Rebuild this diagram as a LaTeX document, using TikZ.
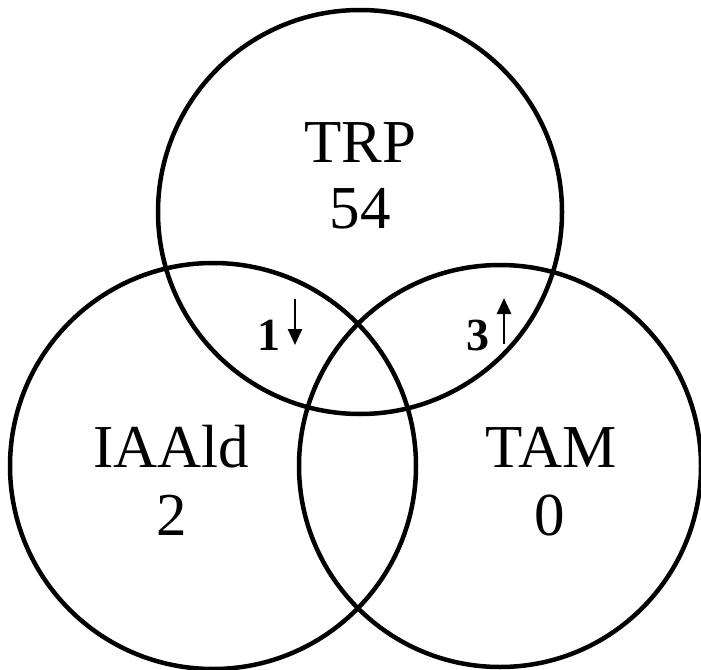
\documentclass[tikz,border=0pt]{standalone}
\usepackage{fontspec}
\setmainfont{Liberation Serif}
\usetikzlibrary{arrows.meta}
\begin{document}
\begin{tikzpicture}[x=1pt,y=-1pt,
  ring/.style={draw=black,line width=4.5pt},
  big/.style={font=\fontsize{61}{61}\selectfont,inner sep=0pt,anchor=base},
  small/.style={font=\fontsize{46}{46}\selectfont\bfseries,inner sep=0pt,anchor=base},
  updown/.style={line width=2.6pt,-{Triangle[length=16pt,width=14pt]}}]
\useasboundingbox (0,0) rectangle (701,669);
\coordinate (ctop) at (360,212);
\coordinate (cleft) at (213,466);
\coordinate (cright) at (500,466);
\draw[ring] (ctop) circle[radius=202];
\draw[ring] (cleft) circle[radius=203];
\draw[ring] (cright) circle[radius=201];
\node[big] (trp) at (360,162) {TRP};
\node[big] (n54) at (360,228) {54};
\node[big] (iaald) at (171,467) {IAAld};
\node[big] (n2) at (172,535) {2};
\node[big] (tam) at (551,467) {TAM};
\node[big] (n0) at (550,535) {0};
\node[small] (one) at (269,350) {1};
\node[small] (three) at (478,350) {3};
\coordinate (a1s) at (295,299);
\coordinate (a1e) at (295,345);
\coordinate (a3s) at (504,344);
\coordinate (a3e) at (504,298);
\draw[updown] (a1s) -- (a1e);
\draw[updown] (a3s) -- (a3e);
\end{tikzpicture}
\end{document}
